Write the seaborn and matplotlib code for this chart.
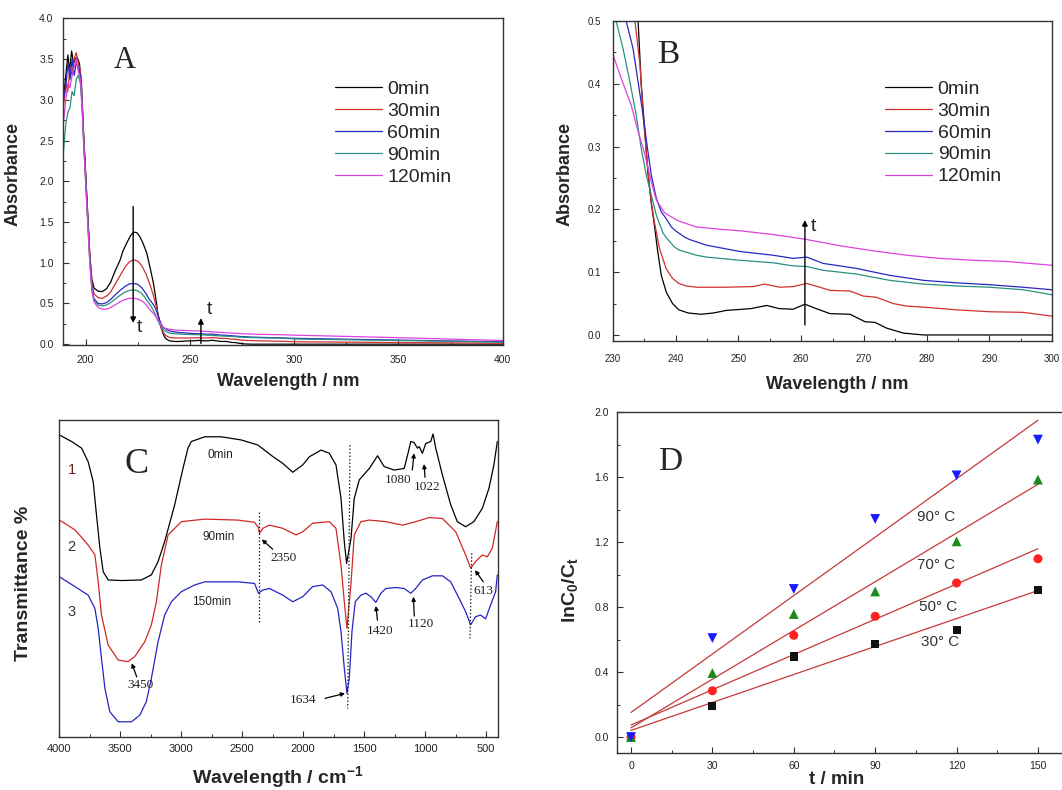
import matplotlib
matplotlib.use("Agg")
import numpy as np
import pandas as pd
import matplotlib.pyplot as plt
from matplotlib.ticker import MultipleLocator, NullLocator, FormatStrFormatter
import seaborn as sns

sns.set_style("ticks")
plt.rcParams["font.family"] = ["Liberation Sans", "DejaVu Sans"]
plt.rcParams["mathtext.fontset"] = "custom"
plt.rcParams["mathtext.rm"] = "Liberation Sans"
plt.rcParams["mathtext.bf"] = "Liberation Sans:bold"
plt.rcParams["mathtext.it"] = "Liberation Sans:italic"

# ---------------- UV-Vis spectra (wavelength nm, absorbance) ----------------
uv_times = ["0min", "30min", "60min", "90min", "120min"]
uv_colors = ["#000000", "#d03030", "#2828c0", "#2a9080", "#e040e0"]

uv_0min = [(189.3, 3.0), (190.5, 3.3), (191.5, 3.55), (192.3, 3.35), (193.3, 3.6), (194.2, 3.45),
           (195.0, 3.5), (196.0, 3.52), (197.0, 3.45), (198.0, 3.2), (199.0, 2.6), (200.0, 2.1),
           (201.0, 1.6), (202.0, 1.1), (203.0, 0.8), (204.0, 0.69), (206.0, 0.65), (208.0, 0.646),
           (210.0, 0.68), (212.0, 0.76), (214.0, 0.89), (216.5, 1.03), (218.0, 1.15), (219.7, 1.24),
           (221.5, 1.33), (223.0, 1.375), (224.5, 1.37), (226.0, 1.32), (227.5, 1.24), (229.3, 1.12),
           (231.0, 0.93), (232.5, 0.75), (233.3, 0.62), (234.0, 0.50), (234.5, 0.40), (235.1, 0.32),
           (235.6, 0.255), (236.1, 0.21), (236.6, 0.175), (237.1, 0.135), (237.7, 0.095), (238.5, 0.068),
           (239.5, 0.05), (240.5, 0.04), (242.0, 0.035), (244.0, 0.033), (246.0, 0.035), (248.0, 0.039),
           (252.0, 0.042), (254.5, 0.047), (256.5, 0.042), (258.7, 0.041), (260.6, 0.049), (262.4, 0.042),
           (264.6, 0.034), (267.8, 0.033), (270.2, 0.021), (271.8, 0.02), (273.6, 0.011), (276.3, 0.003),
           (279.5, 0.0), (300.0, 0.0), (350.0, 0.0), (400.0, 0.0)]

uv_30min = [(189.3, 2.9), (190.5, 3.2), (191.5, 3.1), (192.5, 3.4), (193.5, 3.3), (194.5, 3.5),
            (195.5, 3.58), (196.5, 3.45), (197.5, 3.35), (198.3, 3.0), (199.0, 2.6), (200.0, 2.1),
            (201.0, 1.6), (202.0, 1.1), (203.0, 0.75), (204.0, 0.62), (206.0, 0.57), (208.0, 0.563),
            (210.0, 0.59), (212.0, 0.64), (214.0, 0.73), (216.5, 0.84), (219.0, 0.95), (221.0, 1.01),
            (223.0, 1.035), (225.0, 1.02), (227.0, 0.96), (229.0, 0.86), (231.0, 0.72), (232.5, 0.6),
            (233.5, 0.50), (234.3, 0.43), (234.8, 0.35), (235.5, 0.27), (236.1, 0.212), (236.6, 0.18),
            (237.4, 0.138), (238.5, 0.105), (239.5, 0.09), (240.5, 0.082), (241.7, 0.078), (243.3, 0.076),
            (247.5, 0.076), (252.3, 0.077), (254.2, 0.081), (256.6, 0.076), (258.7, 0.077), (260.9, 0.082),
            (263.0, 0.076), (264.6, 0.071), (267.8, 0.07), (269.9, 0.062), (272.0, 0.06), (274.7, 0.05),
            (276.8, 0.046), (280.0, 0.044), (284.8, 0.04), (290.1, 0.037), (295.4, 0.036), (300.0, 0.03),
            (350.0, 0.02), (400.0, 0.012)]

uv_60min = [(189.3, 3.0), (190.5, 3.15), (191.5, 3.45), (192.5, 3.25), (193.5, 3.5), (194.5, 3.3),
            (195.5, 3.45), (196.5, 3.4), (197.5, 3.3), (198.3, 2.95), (199.0, 2.55), (200.0, 2.05),
            (201.0, 1.55), (202.0, 1.05), (203.0, 0.7), (204.0, 0.56), (206.0, 0.5), (208.0, 0.494),
            (210.0, 0.51), (212.0, 0.55), (214.0, 0.6), (216.5, 0.66), (219.0, 0.71), (221.0, 0.74),
            (223.0, 0.745), (225.0, 0.735), (227.0, 0.69), (229.0, 0.62), (230.5, 0.55), (231.5, 0.52),
            (232.1, 0.50), (233.2, 0.456), (234.0, 0.403), (234.8, 0.35), (235.5, 0.297), (236.1, 0.255),
            (236.9, 0.218), (237.7, 0.196), (238.5, 0.185), (239.3, 0.172), (240.1, 0.165), (241.4, 0.156),
            (242.2, 0.152), (244.9, 0.143), (250.2, 0.133), (255.5, 0.127), (258.7, 0.122), (260.9, 0.124),
            (263.5, 0.114), (268.8, 0.106), (274.1, 0.095), (279.5, 0.087), (284.8, 0.083), (290.1, 0.08),
            (295.4, 0.076), (300.0, 0.072), (350.0, 0.05), (400.0, 0.03)]

uv_90min = [(189.3, 2.35), (190.5, 2.7), (191.5, 2.85), (192.5, 2.9), (193.5, 3.1), (194.5, 3.05),
            (195.5, 3.25), (196.5, 3.3), (197.5, 3.2), (198.3, 2.9), (199.0, 2.5), (200.0, 2.0),
            (201.0, 1.5), (202.0, 1.02), (203.0, 0.68), (204.0, 0.54), (206.0, 0.48), (208.0, 0.47),
            (210.0, 0.48), (212.0, 0.51), (214.0, 0.55), (216.5, 0.6), (219.0, 0.64), (221.0, 0.66),
            (223.0, 0.666), (225.0, 0.655), (227.0, 0.62), (228.5, 0.57), (229.5, 0.53), (230.5, 0.50),
            (231.6, 0.456), (232.7, 0.403), (233.7, 0.35), (234.5, 0.297), (235.3, 0.255), (236.1, 0.223),
            (236.9, 0.191), (238.0, 0.162), (238.5, 0.155), (239.8, 0.14), (240.6, 0.135), (243.3, 0.127),
            (244.9, 0.124), (250.2, 0.119), (255.5, 0.115), (258.7, 0.11), (260.9, 0.109), (263.5, 0.103),
            (268.8, 0.097), (274.1, 0.087), (279.5, 0.081), (284.8, 0.078), (290.1, 0.076), (295.4, 0.072),
            (300.0, 0.064), (350.0, 0.045), (400.0, 0.025)]

uv_120min = [(189.3, 2.7), (190.5, 3.0), (191.5, 3.2), (192.5, 3.15), (193.5, 3.3), (194.5, 3.4),
             (195.5, 3.5), (196.5, 3.35), (197.5, 3.25), (198.3, 2.95), (199.0, 2.5), (200.0, 2.0),
             (201.0, 1.5), (202.0, 1.0), (203.0, 0.66), (204.0, 0.52), (206.0, 0.45), (208.0, 0.43),
             (210.0, 0.43), (212.0, 0.45), (214.0, 0.48), (216.5, 0.52), (219.0, 0.55), (221.0, 0.563),
             (223.0, 0.564), (225.0, 0.555), (227.0, 0.53), (228.5, 0.5), (230.0, 0.446), (231.3, 0.409),
             (232.9, 0.366), (234.0, 0.324), (235.1, 0.287), (236.1, 0.244), (236.9, 0.215), (238.2, 0.195),
             (239.8, 0.185), (240.6, 0.181), (243.3, 0.172), (247.5, 0.168), (250.2, 0.166), (255.5, 0.16),
             (260.9, 0.152), (266.2, 0.142), (271.5, 0.134), (276.8, 0.127), (282.1, 0.122), (287.4, 0.119),
             (292.8, 0.117), (300.0, 0.111), (350.0, 0.08), (400.0, 0.045)]

# ---------------- FT-IR spectra (wavenumber cm-1, transmittance a.u.) ----------------
ir_labels = ["0min", "90min", "150min"]
ir_colors = ["#000000", "#d02828", "#2424c4"]

ir_0min = [(4000, 95.3), (3899, 93.2), (3817, 91.1), (3763, 86.8), (3722, 80.5), (3695, 70.0),
           (3667, 59.5), (3640, 52.1), (3599, 49.5), (3490, 49.3), (3326, 49.5), (3245, 51.1),
           (3190, 55.3), (3136, 61.6), (3054, 73.2), (2986, 84.7), (2945, 91.1), (2917, 93.2),
           (2808, 94.7), (2672, 94.7), (2508, 93.7), (2372, 92.1), (2250, 88.5), (2167, 86.3),
           (2086, 83.5), (2004, 85.8), (1949, 88.4), (1854, 90.5), (1786, 89.5), (1731, 85.8),
           (1690, 75.3), (1663, 61.6), (1644, 54.7), (1608, 62.6), (1581, 75.3), (1540, 81.1),
           (1458, 84.7), (1390, 88.7), (1336, 85.3), (1254, 84.2), (1172, 84.7), (1137, 90.0),
           (1118, 93.2), (1091, 92.9), (1063, 91.1), (1049, 91.6), (1022, 89.5), (995, 92.6),
           (954, 93.2), (935, 95.6), (913, 91.1), (858, 82.6), (790, 73.2), (736, 67.9),
           (668, 66.3), (600, 67.9), (531, 72.1), (477, 78.4), (436, 85.8), (408, 93.2)]

ir_90min = [(4000, 68.4), (3940, 67.0), (3872, 65.3), (3830, 63.5), (3763, 60.5), (3708, 57.4),
            (3681, 48.9), (3654, 38.4), (3599, 28.9), (3517, 24.2), (3436, 23.7), (3381, 25.3),
            (3299, 30.0), (3245, 35.3), (3204, 42.6), (3163, 54.2), (3108, 63.7), (2999, 67.9),
            (2808, 68.7), (2536, 68.4), (2399, 67.7), (2367, 66.0), (2358, 64.2), (2331, 65.8),
            (2277, 66.8), (2167, 65.8), (2058, 63.7), (2004, 64.7), (1922, 67.4), (1786, 67.9),
            (1731, 65.8), (1690, 54.2), (1663, 42.6), (1641, 34.2), (1608, 48.4), (1581, 63.7),
            (1527, 67.9), (1458, 68.4), (1322, 67.9), (1186, 66.8), (1077, 67.9), (968, 69.2),
            (858, 68.9), (749, 64.7), (668, 57.4), (627, 53.2), (586, 55.3), (531, 57.4),
            (490, 56.8), (449, 59.5), (408, 67.9)]

ir_150min = [(4000, 50.5), (3872, 47.4), (3763, 44.7), (3708, 40.5), (3681, 34.2), (3654, 24.7),
             (3626, 15.3), (3586, 7.9), (3517, 4.7), (3408, 4.7), (3340, 6.8), (3286, 11.1),
             (3245, 18.4), (3190, 30.0), (3136, 38.4), (3081, 42.6), (2999, 45.8), (2890, 47.9),
             (2808, 48.9), (2536, 48.9), (2399, 48.4), (2367, 45.3), (2331, 46.3), (2277, 46.8),
             (2167, 44.7), (2086, 42.6), (2004, 44.2), (1922, 47.4), (1840, 47.9), (1772, 45.8),
             (1717, 40.5), (1690, 33.2), (1663, 21.6), (1641, 13.7), (1622, 18.4), (1600, 33.2),
             (1573, 42.6), (1527, 44.7), (1486, 45.3), (1445, 44.2), (1404, 42.4), (1363, 45.3),
             (1322, 46.8), (1240, 47.1), (1172, 46.8), (1118, 45.3), (1077, 46.8), (1022, 49.5),
             (940, 50.8), (858, 50.8), (790, 48.9), (722, 43.7), (668, 39.5), (627, 35.3),
             (586, 37.9), (545, 38.4), (504, 37.2), (463, 41.6), (422, 45.8), (408, 51.1)]

# ---------------- kinetics: ln(C0/Ct) vs time ----------------
kin_t = [0, 30, 60, 90, 120, 150]
kin_30C = [0.0, 0.19, 0.496, 0.574, 0.66, 0.907]
kin_50C = [0.0, 0.285, 0.626, 0.743, 0.948, 1.097]
kin_70C = [0.0, 0.394, 0.757, 0.896, 1.204, 1.584]
kin_90C = [0.0, 0.609, 0.911, 1.342, 1.61, 1.83]
kin_labels = ["30° C", "50° C", "70° C", "90° C"]


def long_frame(series, names, xname, yname):
    rows = []
    for pts, name in zip(series, names):
        for x, y in pts:
            rows.append({xname: x, yname: y, "series": name})
    return pd.DataFrame(rows)


uv_df = long_frame([uv_0min, uv_30min, uv_60min, uv_90min, uv_120min], uv_times, "wl", "abs")
ir_df = long_frame([ir_0min, ir_90min, ir_150min], ir_labels, "wn", "T")

W, H = 1062, 790
fig = plt.figure(figsize=(W / 100, H / 100), dpi=100)


def px_axes(left, top, right, bottom):
    return fig.add_axes([left / W, 1 - bottom / H, (right - left) / W, (bottom - top) / H])


SPINE = "#333333"
LABEL_KW = dict(fontsize=13, fontweight="bold")


def style_axes(ax, tick_size=8, pad=6):
    for s in ax.spines.values():
        s.set_color(SPINE)
        s.set_linewidth(1.0)
        s.set_visible(True)
    ax.tick_params(which="major", direction="in", length=4, width=0.8, color=SPINE,
                   labelsize=tick_size, labelcolor="#222222", pad=pad,
                   top=False, right=False)
    ax.tick_params(which="minor", direction="in", length=2.5, width=0.7, color=SPINE,
                   top=False, right=False)


# ===================== A =====================
axA = px_axes(63.3, 18.3, 502.7, 345)
sns.lineplot(data=uv_df, x="wl", y="abs", hue="series", hue_order=uv_times,
             palette=uv_colors, estimator=None, lw=0.9, ax=axA)
axA.set_xlim(189.3, 400)
axA.set_ylim(-0.01, 4.0)
axA.xaxis.set_major_locator(MultipleLocator(50))
axA.xaxis.set_minor_locator(MultipleLocator(25))
axA.yaxis.set_major_locator(MultipleLocator(0.5))
axA.yaxis.set_minor_locator(MultipleLocator(0.25))
axA.yaxis.set_major_formatter(FormatStrFormatter("%.1f"))
style_axes(axA, tick_size=7.5, pad=7)
axA.set_xlabel("Wavelength / nm", **LABEL_KW)
axA.set_ylabel("Absorbance", **LABEL_KW)
axA.xaxis.set_label_coords(0.511, -0.085)
axA.yaxis.set_label_coords(-0.094, 0.523)
h, l = axA.get_legend_handles_labels()
axA.legend(h, l, loc="upper left", bbox_to_anchor=(0.618, 0.81), frameon=False,
           fontsize=14, handlelength=2.4, handletextpad=0.3, labelspacing=0.22,
           borderpad=0, borderaxespad=0)
axA.text(0.14, 0.872, "A", transform=axA.transAxes, family="Liberation Serif",
         fontsize=22, ha="center", va="center")
arrow_kw = dict(arrowstyle="-|>", color="black", lw=1.0, mutation_scale=8, shrinkA=0, shrinkB=0)
axA.annotate("", xy=(222.8, 0.26), xytext=(222.8, 1.69), arrowprops=arrow_kw)
axA.text(224.5, 0.2, "t", fontsize=14, ha="left", va="center")
axA.annotate("", xy=(255.3, 0.32), xytext=(255.3, 0.01), arrowprops=arrow_kw)
axA.text(258.0, 0.42, "t", fontsize=14, ha="left", va="center")

# ===================== B =====================
axB = px_axes(613, 21, 1052, 341)
sns.lineplot(data=uv_df, x="wl", y="abs", hue="series", hue_order=uv_times,
             palette=uv_colors, estimator=None, lw=0.9, ax=axB)
axB.set_xlim(230, 300)
axB.set_ylim(-0.0096, 0.5)
axB.xaxis.set_major_locator(MultipleLocator(10))
axB.xaxis.set_minor_locator(MultipleLocator(5))
axB.yaxis.set_major_locator(MultipleLocator(0.1))
axB.yaxis.set_minor_locator(MultipleLocator(0.05))
axB.yaxis.set_major_formatter(FormatStrFormatter("%.1f"))
style_axes(axB, tick_size=7, pad=9)
axB.set_xlabel("Wavelength / nm", **LABEL_KW)
axB.set_ylabel("Absorbance", **LABEL_KW)
axB.xaxis.set_label_coords(0.51, -0.11)
axB.yaxis.set_label_coords(-0.091, 0.522)
h, l = axB.get_legend_handles_labels()
axB.legend(h, l, loc="upper left", bbox_to_anchor=(0.62, 0.815), frameon=False,
           fontsize=14, handlelength=2.4, handletextpad=0.3, labelspacing=0.22,
           borderpad=0, borderaxespad=0)
axB.text(0.125, 0.894, "B", transform=axB.transAxes, family="Liberation Serif",
         fontsize=24, ha="center", va="center")
axB.annotate("", xy=(260.6, 0.183), xytext=(260.6, 0.016), arrowprops=arrow_kw)
axB.text(261.5, 0.172, "t", fontsize=14, ha="left", va="center")

# ===================== C =====================
axC = px_axes(59.3, 420, 498.3, 736.7)
sns.lineplot(data=ir_df, x="wn", y="T", hue="series", hue_order=ir_labels,
             palette=ir_colors, estimator=None, lw=0.9, legend=False, ax=axC)
axC.set_xlim(4000, 400)
axC.set_ylim(0, 100)
axC.xaxis.set_major_locator(MultipleLocator(500))
axC.xaxis.set_minor_locator(MultipleLocator(250))
axC.yaxis.set_major_locator(NullLocator())
axC.yaxis.set_minor_locator(NullLocator())
style_axes(axC, tick_size=8, pad=5)
axC.set_xlabel("Wavelength / cm$^{\\mathbf{-1}}$", fontsize=14, fontweight="bold")
axC.set_ylabel("Transmittance %", fontsize=14, fontweight="bold")
axC.xaxis.set_label_coords(0.498, -0.088)
axC.yaxis.set_label_coords(-0.062, 0.485)
axC.text(0.177, 0.858, "C", transform=axC.transAxes, family="Liberation Serif",
         fontsize=26, ha="center", va="center")

for txt, y, col in [("1", 84.2, "#6a2020"), ("2", 60.0, "#333333"), ("3", 39.5, "#333333")]:
    axC.text(3898, y, txt, fontsize=10.5, color=col, ha="center", va="center")
for txt, x, y in [("0min", 2682, 88.9), ("90min", 2696, 63.2), ("150min", 2750, 42.4)]:
    axC.text(x, y, txt, fontsize=8.5, color="#222222", ha="center", va="center")

dot_kw = dict(color="#222222", lw=0.9, ls=(0, (1.2, 1.6)))
axC.plot([2360, 2360], [71.1, 36.3], **dot_kw)
axC.plot([1616, 1635], [92.1, 8.9], **dot_kw)
axC.plot([618, 632], [57.9, 31.0], **dot_kw)

small_arrow = dict(arrowstyle="-|>", color="black", lw=0.9, mutation_scale=6, shrinkA=0, shrinkB=0)
serif = "Liberation Serif"
peaks = [
    ("2350", (2340, 62.3), (2250, 59.2), (2163, 56.3), "center"),
    ("3450", (3406, 23.2), (3365, 18.9), (3338, 16.3), "center"),
    ("1634", (1657, 13.7), (1821, 12.1), (1998, 11.6), "center"),
    ("1420", (1404, 41.3), (1391, 36.8), (1370, 33.5), "center"),
    ("1120", (1096, 44.2), (1089, 38.1), (1036, 35.5), "center"),
    ("613", (591, 52.6), (523, 48.9), (605, 46.1), "left"),
    ("1080", (1091, 89.5), (1105, 84.2), (1219, 81.0), "center"),
    ("1022", (1009, 86.1), (1001, 81.9), (987, 79.0), "center"),
]
for txt, tip, tail, pos, ha in peaks:
    axC.annotate("", xy=tip, xytext=tail, arrowprops=small_arrow)
    axC.text(pos[0], pos[1], txt, family=serif, fontsize=9.5, color="#222222",
             ha=ha, va="center")

# ===================== D =====================
axD = px_axes(617.3, 412, 1064, 753)
kin_sets = [
    (kin_30C, "s", "#111111", 34),
    (kin_50C, "o", "#ff2020", 42),
    (kin_70C, "^", "#1a8a1a", 50),
    (kin_90C, "v", "#1a1aff", 50),
]
for vals, *_ in kin_sets:
    sns.regplot(x=kin_t, y=vals, ax=axD, ci=None, scatter=False, truncate=True,
                line_kws=dict(color="#c43a3a", lw=0.9))
for vals, mk, col, size in kin_sets:
    sns.scatterplot(x=kin_t, y=vals, ax=axD, marker=mk, color=col, s=size,
                    edgecolor="none", zorder=5)
axD.set_xlim(-5.05, 159.6)
axD.set_ylim(-0.098, 2.0)
axD.xaxis.set_major_locator(MultipleLocator(30))
axD.xaxis.set_minor_locator(MultipleLocator(15))
axD.yaxis.set_major_locator(MultipleLocator(0.4))
axD.yaxis.set_minor_locator(MultipleLocator(0.2))
axD.yaxis.set_major_formatter(FormatStrFormatter("%.1f"))
style_axes(axD, tick_size=7.5, pad=6)
axD.set_xlabel("t / min", fontsize=13.5, fontweight="bold")
axD.set_ylabel("$\\mathbf{lnC_0/C_t}$", fontsize=14)
axD.xaxis.set_label_coords(0.492, -0.052)
axD.yaxis.set_label_coords(-0.083, 0.478)
axD.text(0.118, 0.853, "D", transform=axD.transAxes, family="Liberation Serif",
         fontsize=24, ha="center", va="center")
for lab, x, y in zip(kin_labels, [106.8, 106.0, 105.3, 105.3], [0.586, 0.80, 1.058, 1.354]):
    axD.text(x, y, lab, fontsize=11, color="#333333", ha="left", va="center")

fig.savefig("out.png", dpi=100)
